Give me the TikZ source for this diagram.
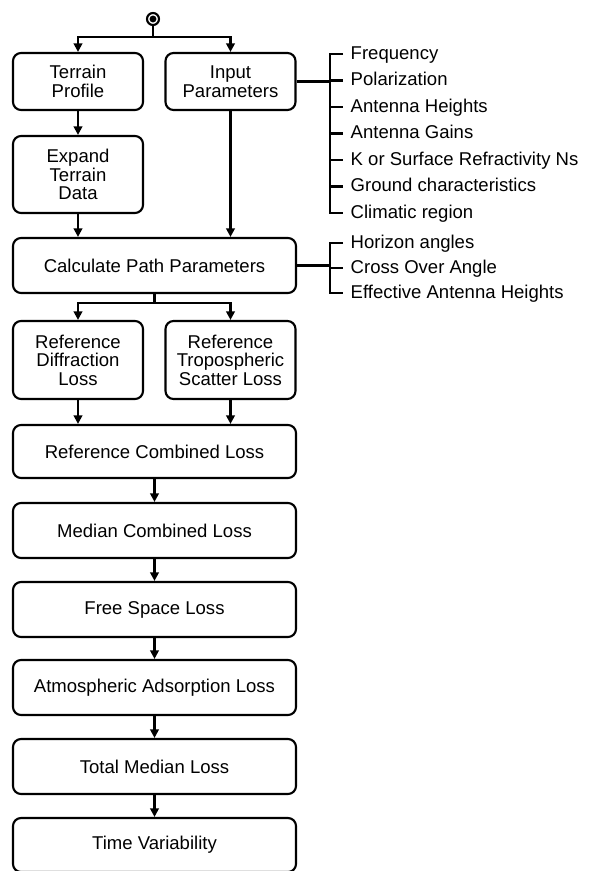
\documentclass[tikz,border=0pt]{standalone}
\usepackage{fontspec}
\setmainfont{Liberation Sans}
\usetikzlibrary{arrows.meta}
\begin{document}
\begin{tikzpicture}[x=0.75pt,y=-0.75pt,
  line width=1.6pt,
  every node/.style={font=\fontsize{13.9}{13.9}\selectfont},
  box/.style={draw, rounded corners=6pt, align=center, inner sep=0pt},
  sidebox/.style={box, minimum width=97.5pt},
  widebox/.style={box, minimum width=212.25pt},
  item/.style={anchor=west, inner xsep=5pt, inner ysep=0pt, text height=7pt, text depth=0pt, yshift=-0.5pt},
  arr/.style={-{Triangle[length=6.5pt,width=6.5pt]}}
]
\useasboundingbox (0,0) rectangle (593,871);

% start
\node[draw, circle, minimum size=9pt, inner sep=0pt] (start) at (153,19) {};
\fill (start) circle (2.6pt);

% boxes
\node[sidebox, minimum height=42.75pt] (tp) at (78,81.5) {Terrain\\Profile};
\node[sidebox, minimum height=42.75pt] (ip) at (230.5,81.5) {Input\\Parameters};
\node[sidebox, minimum height=57.75pt] (etd) at (78,174.5) {Expand\\Terrain\\Data};
\node[widebox, minimum height=41.25pt] (cpp) at (154.5,265.5) {Calculate Path Parameters};
\node[sidebox, minimum height=58.5pt] (rdl) at (78,360) {Reference\\Diffraction\\Loss};
\node[sidebox, minimum height=58.5pt] (rts) at (230.5,360) {Reference\\Tropospheric\\Scatter Loss};
\node[widebox, minimum height=39.75pt] (rcl) at (154.5,451.5) {Reference Combined Loss};
\node[widebox, minimum height=41.25pt] (mcl) at (154.5,530.5) {Median Combined Loss};
\node[widebox, minimum height=41.25pt] (fsl) at (154.5,609.5) {Free Space Loss};
\node[widebox, minimum height=41.25pt] (aal) at (154.5,687.5) {Atmospheric Adsorption Loss};
\node[widebox, minimum height=41.25pt] (tml) at (154.5,766.5) {Total Median Loss};
\node[widebox, minimum height=40.5pt] (tv) at (154.5,845) {Time Variability};

% top fork
\coordinate (j1) at (153,37);
\draw (start) -- (j1);
\draw[arr] (j1) -| (tp.north);
\draw[arr] (j1) -| (ip.north);

\draw[arr] (tp) -- (etd);
\draw[arr] (etd) -- (etd.south |- cpp.north);
\draw[arr] (ip) -- (ip.south |- cpp.north);

% second fork
\coordinate (j2) at (154.5,303);
\draw (cpp.south) -- (j2);
\draw[arr] (j2) -| (rdl.north);
\draw[arr] (j2) -| (rts.north);

\draw[arr] (rdl) -- (rdl.south |- rcl.north);
\draw[arr] (rts) -- (rts.south |- rcl.north);
\draw[arr] (rcl) -- (mcl);
\draw[arr] (mcl) -- (fsl);
\draw[arr] (fsl) -- (aal);
\draw[arr] (aal) -- (tml);
\draw[arr] (tml) -- (tv);

% input parameter list
\node[item] (l1) at (343,54) {Frequency};
\node[item] (l2) at (343,80.5) {Polarization};
\node[item] (l3) at (343,107) {Antenna Heights};
\node[item] (l4) at (343,133.5) {Antenna Gains};
\node[item] (l5) at (343,160) {K or Surface Refractivity Ns};
\node[item] (l6) at (343,186.5) {Ground characteristics};
\node[item] (l7) at (343,213) {Climatic region};
\coordinate (b1) at (330,81.5);
\draw (ip.east) -- (b1);
\draw (343,54) -- (330,54) -- (330,213) -- (343,213);
\foreach \y in {80.5,107,133.5,160,186.5}
  \draw (330,\y) -- (343,\y);

% path parameter list
\node[item] (m1) at (343,243) {Horizon angles};
\node[item] (m2) at (343,268) {Cross Over Angle};
\node[item] (m3) at (343,293) {Effective Antenna Heights};
\coordinate (b2) at (330,265.5);
\draw (cpp.east) -- (b2);
\draw (343,243) -- (330,243) -- (330,293) -- (343,293);
\draw (330,268) -- (343,268);
\end{tikzpicture}
\end{document}
